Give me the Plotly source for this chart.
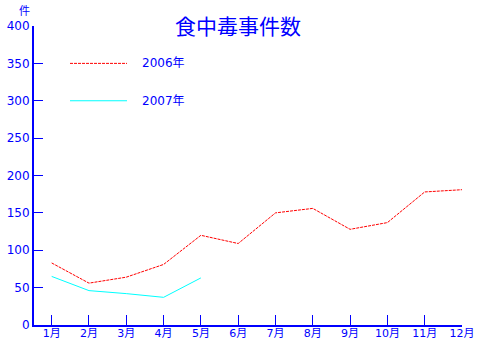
import plotly.graph_objects as go

months = ["1月", "2月", "3月", "4月", "5月", "6月", "7月", "8月", "9月", "10月", "11月", "12月"]
month_pos = [1, 2, 3, 4, 5, 6, 7, 8, 9, 10, 11, 12]
cases_2006 = [83, 56, 64, 81, 120, 109, 150, 156, 128, 137, 178, 181]
cases_2007 = [65, 46, 42, 37, 63]
y_ticks = [0, 50, 100, 150, 200, 250, 300, 350, 400]
series_names = ["2006年", "2007年"]
title_text = "食中毒事件数"
unit_text = "件"

BLUE = "#0000ff"
FONT = "DejaVu Sans, Noto Sans CJK JP"

fig = go.Figure()
fig.add_trace(go.Scatter(x=month_pos, y=cases_2006, mode="lines", name=series_names[0],
                         line=dict(color="#ff0000", width=1, dash="3px,1px"), showlegend=False))
fig.add_trace(go.Scatter(x=month_pos[:len(cases_2007)], y=cases_2007, mode="lines", name=series_names[1],
                         line=dict(color="#00ffff", width=1), showlegend=False))

# legend drawn manually
leg_y = [350, 300]
leg_style = [dict(color="#ff0000", width=1, dash="3px,1px"), dict(color="#00ffff", width=1)]
for yv, st, nm in zip(leg_y, leg_style, series_names):
    fig.add_shape(type="line", xref="paper", yref="y", x0=(70 - 34) / 428, x1=(127 - 34) / 428,
                  y0=yv, y1=yv, line=st)
    fig.add_annotation(xref="paper", yref="y", x=(140 - 34) / 428, y=yv, text=nm, showarrow=False,
                       xanchor="left", yanchor="middle", font=dict(color=BLUE, size=12, family=FONT))

fig.add_annotation(xref="paper", yref="paper", x=(238 - 34) / 428, y=1 + (26 - 25.5) / 299, text=title_text,
                   showarrow=False, xanchor="center", yanchor="middle",
                   font=dict(color=BLUE, size=21, family="Noto Sans CJK JP"))
fig.add_annotation(xref="paper", yref="paper", x=(24 - 34) / 428, y=1 + (26 - 10) / 299, text=unit_text,
                   showarrow=False, xanchor="center", yanchor="middle",
                   font=dict(color=BLUE, size=11, family="Noto Sans CJK JP"))

fig.update_layout(
    width=477, height=342,
    margin=dict(l=34, r=15, t=26, b=17, autoexpand=False),
    paper_bgcolor="white", plot_bgcolor="white",
    showlegend=False,
    xaxis=dict(range=[0.526, 12], tickmode="array", tickvals=month_pos, ticktext=months,
               showgrid=False, zeroline=False, showline=True, linecolor=BLUE, linewidth=2,
               ticks="inside", ticklen=10, tickcolor=BLUE, tickwidth=1, automargin=False,
               ticklabelstandoff=-3,
               tickfont=dict(color=BLUE, size=11, family=FONT)),
    yaxis=dict(range=[0, 400], tickmode="array", tickvals=y_ticks,
               showgrid=False, zeroline=False, showline=True, linecolor=BLUE, linewidth=2,
               ticks="inside", ticklen=9, tickcolor=BLUE, tickwidth=1, automargin=False,
               tickfont=dict(color=BLUE, size=12, family=FONT)),
)

fig.write_html("out.html")
